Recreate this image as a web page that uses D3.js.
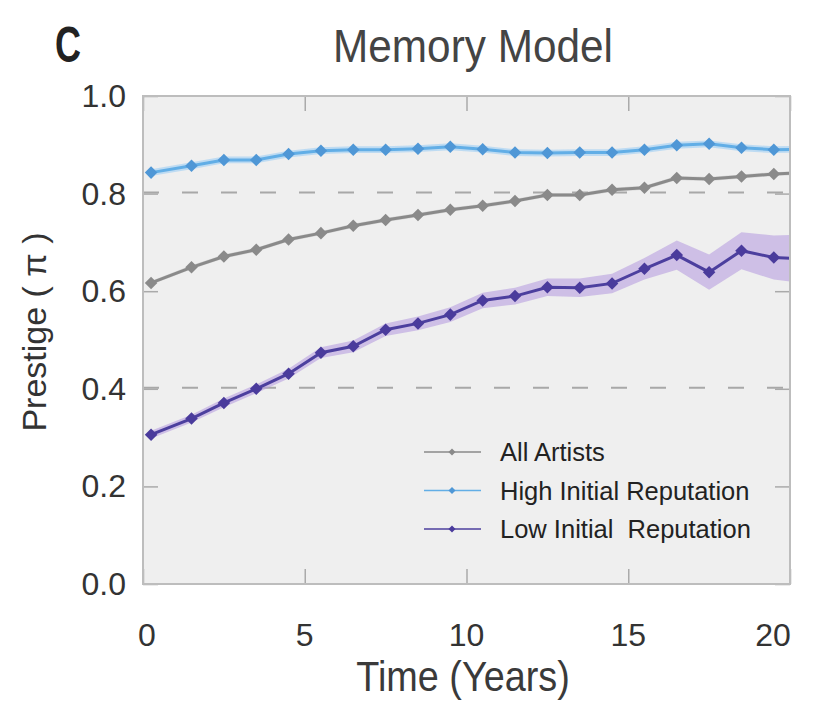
<!DOCTYPE html>
<html>
<head>
<meta charset="utf-8">
<script src="https://cdn.jsdelivr.net/npm/d3@7"></script>
<style>
  body { margin: 0; background: #fff; }
  svg { font-family: "Liberation Sans", Arial, sans-serif; }
</style>
</head>
<body>
<div class="visContainer"></div>
<script>
// years where each model point sits (last one runs past the frame and is clipped)
const years = [0.25, 1.5, 2.5, 3.5, 4.5, 5.5, 6.5, 7.5, 8.5, 9.5, 10.5,
               11.5, 12.5, 13.5, 14.5, 15.5, 16.5, 17.5, 18.5, 19.5, 20.5];

const allArtists = [0.617, 0.649, 0.671, 0.685, 0.706, 0.719, 0.734, 0.746, 0.756, 0.767, 0.775,
                    0.785, 0.797, 0.797, 0.808, 0.812, 0.832, 0.830, 0.835, 0.840, 0.843];
const allErr = [0.004, 0.004, 0.004, 0.004, 0.004, 0.004, 0.004, 0.004, 0.004, 0.004, 0.004,
                0.004, 0.004, 0.004, 0.004, 0.004, 0.004, 0.004, 0.004, 0.004, 0.004];

const highRep = [0.843, 0.857, 0.869, 0.869, 0.881, 0.888, 0.890, 0.890, 0.892, 0.896, 0.891,
                 0.884, 0.883, 0.884, 0.884, 0.890, 0.899, 0.902, 0.894, 0.890, 0.891];
const highErr = [0.007, 0.007, 0.007, 0.007, 0.007, 0.007, 0.007, 0.007, 0.007, 0.007, 0.007,
                 0.007, 0.007, 0.007, 0.007, 0.007, 0.007, 0.007, 0.007, 0.007, 0.007];

const lowRep = [0.306, 0.339, 0.371, 0.400, 0.431, 0.474, 0.487, 0.521, 0.534, 0.552, 0.581,
                0.590, 0.608, 0.607, 0.616, 0.646, 0.674, 0.639, 0.683, 0.669, 0.666];
const lowErr = [0.008, 0.008, 0.009, 0.009, 0.010, 0.011, 0.012, 0.013, 0.014, 0.015, 0.016,
                0.017, 0.018, 0.019, 0.020, 0.022, 0.030, 0.036, 0.038, 0.045, 0.050];

const xTicks = [0, 5, 10, 15, 20];
const yTicks = [0.0, 0.2, 0.4, 0.6, 0.8, 1.0];
const dashedAt = [0.4, 0.8];

const seriesNames = ['All Artists', 'High Initial Reputation', 'Low Initial  Reputation'];

const width = 825, height = 707;
const pLeft = 143, pRight = 790, pTop = 96, pBottom = 584;

const svg = d3.select('.visContainer').append('svg')
  .attr('width', width).attr('height', height);

const xScale = d3.scaleLinear().domain([0, 20]).range([pLeft, pRight]);
const yScale = d3.scaleLinear().domain([0, 1]).range([pBottom, pTop]);

svg.append('defs').append('clipPath').attr('id', 'plotclip')
  .append('rect').attr('x', pLeft).attr('y', pTop)
  .attr('width', pRight - pLeft).attr('height', pBottom - pTop);

svg.append('rect')
  .attr('x', pLeft).attr('y', pTop)
  .attr('width', pRight - pLeft).attr('height', pBottom - pTop)
  .attr('fill', '#efefef');

// inward ticks on all four sides
const tickStyle = g => {
  g.select('.domain').remove();
  g.selectAll('.tick line').attr('stroke', '#aaa').attr('stroke-width', 1.5);
  g.selectAll('.tick text').remove();
};
svg.append('g').attr('transform', `translate(0,${pBottom})`)
  .call(d3.axisBottom(xScale).tickValues(xTicks).tickSize(-15)).call(tickStyle);
svg.append('g').attr('transform', `translate(0,${pTop})`)
  .call(d3.axisTop(xScale).tickValues(xTicks).tickSize(-15)).call(tickStyle);
svg.append('g').attr('transform', `translate(${pLeft},0)`)
  .call(d3.axisLeft(yScale).tickValues(yTicks).tickSize(-15)).call(tickStyle);
svg.append('g').attr('transform', `translate(${pRight},0)`)
  .call(d3.axisRight(yScale).tickValues(yTicks).tickSize(-15)).call(tickStyle);

svg.selectAll('.dash').data(dashedAt).enter().append('line')
  .attr('x1', pLeft).attr('x2', pRight)
  .attr('y1', d => yScale(d) - 1).attr('y2', d => yScale(d) - 1)
  .attr('stroke', '#a8a8a8').attr('stroke-width', 2)
  .attr('stroke-dasharray', '16,23');

// tick labels
svg.selectAll('.xlab').data(xTicks).enter().append('text')
  .attr('x', d => xScale(d) + (d === 0 ? 4 : d === 20 ? -17 : 0))
  .attr('y', 646)
  .attr('text-anchor', 'middle')
  .attr('font-size', 32).attr('fill', '#333')
  .text(d => d);
svg.selectAll('.ylab').data(yTicks).enter().append('text')
  .attr('x', 126).attr('y', d => yScale(d) + 11)
  .attr('text-anchor', 'end')
  .attr('font-size', 32).attr('fill', '#333')
  .text(d => d.toFixed(1));

const plot = svg.append('g').attr('clip-path', 'url(#plotclip)');

const series = [
  { vals: allArtists, err: allErr, line: '#8a8a8a', mark: '#8a8a8a', band: '#bdbdbd', bandOp: 0.5 },
  { vals: highRep, err: highErr, line: '#62aee6', mark: '#4f97d6', band: '#a9d3f3', bandOp: 0.7 },
  { vals: lowRep, err: lowErr, line: '#4c3f9e', mark: '#4a3b9c', band: '#b89fe0', bandOp: 0.6 }
];

series.forEach(s => {
  const pts = years.map((yr, i) => ({ x: yr, y: s.vals[i], e: s.err[i] }));
  plot.append('path').datum(pts)
    .attr('fill', s.band).attr('opacity', s.bandOp)
    .attr('d', d3.area().x(d => xScale(d.x)).y0(d => yScale(d.y - d.e)).y1(d => yScale(d.y + d.e)));
  plot.append('path').datum(pts)
    .attr('fill', 'none').attr('stroke', s.line).attr('stroke-width', 3)
    .attr('d', d3.line().x(d => xScale(d.x)).y(d => yScale(d.y)));
  plot.selectAll(null).data(pts).enter().append('path')
    .attr('transform', d => `translate(${xScale(d.x)},${yScale(d.y)})`)
    .attr('d', d3.symbol(d3.symbolDiamond2, 100)())
    .attr('fill', s.mark);
});

svg.append('rect')
  .attr('x', pLeft).attr('y', pTop)
  .attr('width', pRight - pLeft).attr('height', pBottom - pTop)
  .attr('fill', 'none').attr('stroke', '#bdbdbd').attr('stroke-width', 2);

// legend
const legend = svg.append('g');
series.forEach((s, i) => {
  const ly = 452 + i * 38.5;
  legend.append('line').attr('x1', 424).attr('x2', 481).attr('y1', ly).attr('y2', ly)
    .attr('stroke', s.line).attr('stroke-width', 1.5);
  legend.append('path').attr('transform', `translate(452,${ly})`)
    .attr('d', d3.symbol(d3.symbolDiamond2, 32)()).attr('fill', s.mark);
  legend.append('text').attr('x', 500).attr('y', ly + 9)
    .attr('font-size', 25.5).attr('fill', '#222')
    .style('white-space', 'pre')
    .text(seriesNames[i]);
});

// titles
svg.append('text').attr('x', 55).attr('y', 62)
  .attr('font-size', 50).attr('font-weight', 'bold').attr('fill', '#222')
  .attr('transform', 'translate(55,0) scale(0.72,1) translate(-55,0)')
  .text('C');
svg.append('text').attr('x', 473).attr('y', 62)
  .attr('text-anchor', 'middle').attr('font-size', 46).attr('fill', '#444')
  .attr('transform', 'translate(473,0) scale(0.92,1) translate(-473,0)')
  .text('Memory Model');
svg.append('text').attr('x', 463).attr('y', 691)
  .attr('text-anchor', 'middle').attr('font-size', 42).attr('fill', '#3a3a3a')
  .attr('transform', 'translate(463,0) scale(0.9,1) translate(-463,0)')
  .text('Time (Years)');
svg.append('text')
  .attr('transform', `translate(46,332) rotate(-90)`)
  .attr('text-anchor', 'middle').attr('font-size', 34).attr('fill', '#333')
  .text('Prestige ( π )');
</script>
</body>
</html>
